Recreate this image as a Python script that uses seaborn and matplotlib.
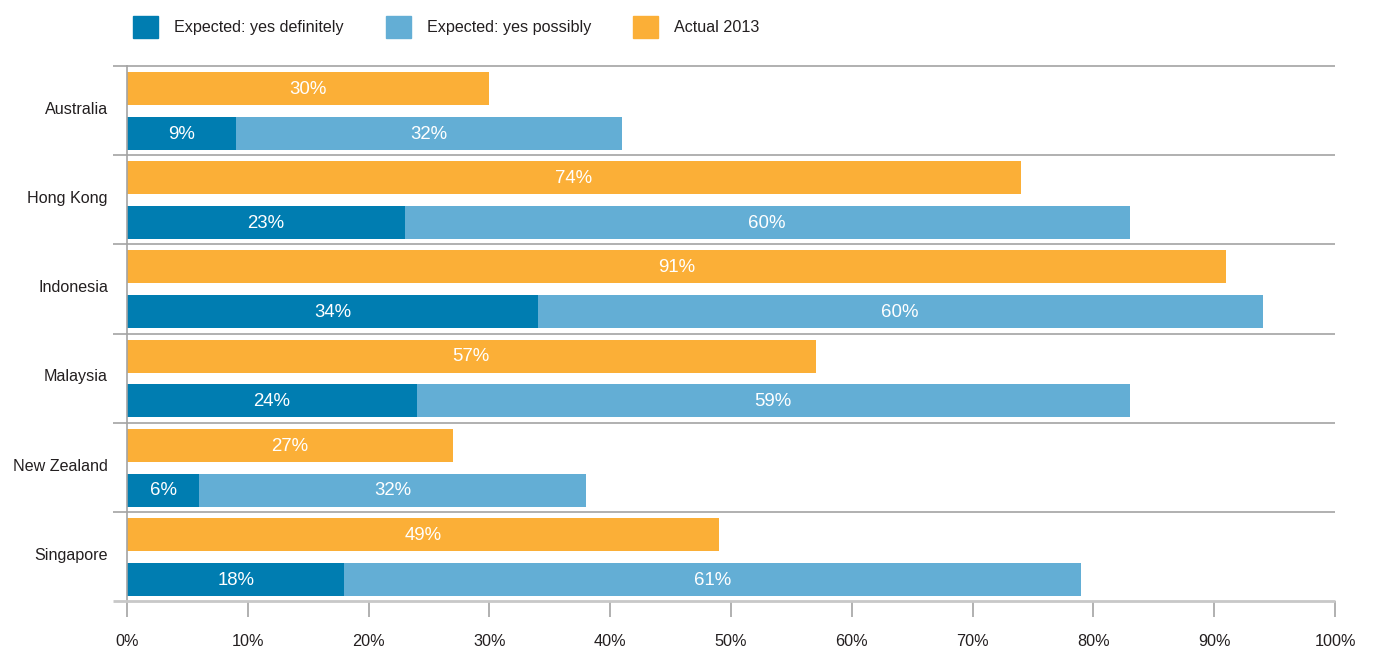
import matplotlib
matplotlib.use("Agg")
import matplotlib.pyplot as plt
from matplotlib.patches import Patch
import seaborn as sns
import numpy as np

countries = ["Australia", "Hong Kong", "Indonesia", "Malaysia", "New Zealand", "Singapore"]
actual_2013 = [30, 74, 91, 57, 27, 49]
yes_definitely = [9, 23, 34, 24, 6, 18]
yes_possibly = [32, 60, 60, 59, 32, 61]
x_ticks = [0, 10, 20, 30, 40, 50, 60, 70, 80, 90, 100]

C_DEF = "#007db1"
C_POS = "#63aed5"
C_ACT = "#fbaf37"
GRID = "#a3a3a3"
TEXT = "#231f20"

sns.set_theme(style="white")
plt.rcParams["font.family"] = ["Liberation Sans", "DejaVu Sans"]

fig = plt.figure(figsize=(13.75, 6.53), dpi=100)
ax = fig.add_axes([127 / 1375, 1 - 601 / 653, 1208 / 1375, 535 / 653])

idx = np.arange(len(countries))
pos_act = idx + 0.253
pos_exp = idx + 0.756
total_exp = [d + p for d, p in zip(yes_definitely, yes_possibly)]

bar_kw = dict(orient="h", native_scale=True, width=0.37, errorbar=None, ax=ax,
              saturation=1, linewidth=0)
sns.barplot(x=actual_2013, y=pos_act, color=C_ACT, **bar_kw)
sns.barplot(x=total_exp, y=pos_exp, color=C_POS, **bar_kw)
sns.barplot(x=yes_definitely, y=pos_exp, color=C_DEF, **bar_kw)

lab_kw = dict(color="white", ha="center", va="center", fontsize=13.4)
for i in idx:
    ax.text(actual_2013[i] / 2, pos_act[i] + 0.01, f"{actual_2013[i]}%", **lab_kw)
    ax.text(yes_definitely[i] / 2, pos_exp[i] + 0.01, f"{yes_definitely[i]}%", **lab_kw)
    ax.text(yes_definitely[i] + yes_possibly[i] / 2, pos_exp[i] + 0.01,
            f"{yes_possibly[i]}%", **lab_kw)

ax.set_xlim(0, 100)
ax.set_ylim(len(countries), 0)

# category separators, reaching slightly past the left axis
ax.hlines(idx, -1.16, 100, color=GRID, lw=1.2, clip_on=False, zorder=3)
ax.hlines(len(countries), -1.16, 100, color="#c8c8c8", lw=2, clip_on=False, zorder=3)

for s in ["top", "right", "bottom"]:
    ax.spines[s].set_visible(False)
ax.spines["left"].set_color(GRID)
ax.spines["left"].set_linewidth(1.2)

ax.set_xticks(x_ticks)
ax.set_xticklabels([f"{t}%" for t in x_ticks])
ax.set_yticks(idx + 0.47)
ax.set_yticklabels(countries)
ax.tick_params(axis="x", length=11.5, width=1.2, color=GRID, direction="out",
               pad=12, labelsize=11.7, labelcolor=TEXT, bottom=True)
ax.tick_params(axis="y", length=0, pad=13.7, labelsize=11.6, labelcolor=TEXT, left=False)
ax.set_xlabel("")
ax.set_ylabel("")

handles = [Patch(color=C_DEF, label="Expected: yes definitely"),
           Patch(color=C_POS, label="Expected: yes possibly"),
           Patch(color=C_ACT, label="Actual 2013")]
fig.legend(handles=handles, loc="upper left", bbox_to_anchor=(133 / 1375, 1 - 16 / 653),
           ncol=3, frameon=False, fontsize=11.6, handlelength=1.55, handleheight=1.75,
           handletextpad=1.0, columnspacing=2.6, borderpad=0, borderaxespad=0,
           labelcolor=TEXT)

fig.savefig("out.png", dpi=100)
